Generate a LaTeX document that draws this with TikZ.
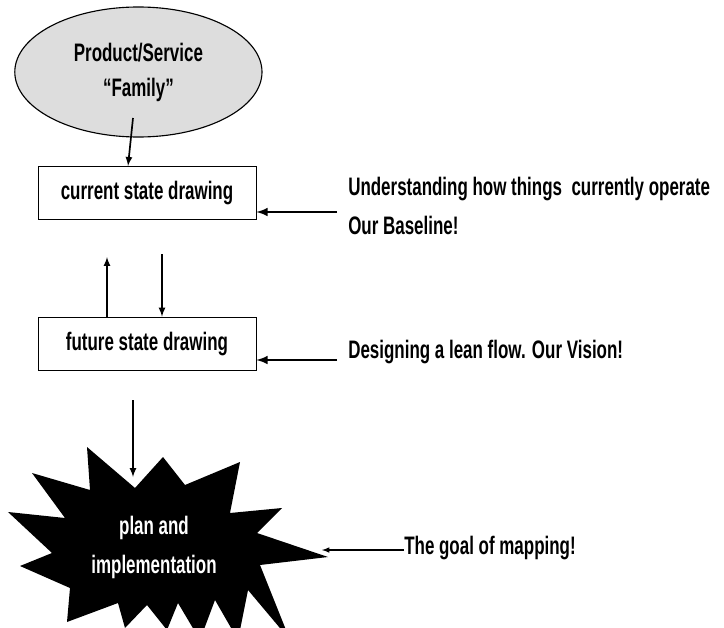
\documentclass[tikz,border=0pt]{standalone}
\usepackage{fontspec}
\setmainfont{Liberation Sans}[FakeStretch=0.67]
\usepackage{tikz}
\usetikzlibrary{shapes.geometric}

\definecolor{famgray}{RGB}{221,221,221}

\begin{document}
\begin{tikzpicture}[>=latex,
  txt/.style={font=\bfseries\fontsize{18}{27.7}\selectfont},
  stagebox/.style={txt,rectangle,draw,semithick,minimum width=5.45cm,minimum height=1.33cm,inner sep=0},
  note/.style={txt,anchor=west,align=left,inner sep=0}]

\useasboundingbox (0,0) rectangle (18.1,-15.675);

% product family node
\node[txt,ellipse,draw,thick,fill=famgray,align=center,minimum width=6.18cm,minimum height=3.25cm,inner sep=0,
  font=\bfseries\fontsize{18}{24.9}\selectfont] (fam) at (3.46,-1.8) {Product/Service\\“Family”};

% current and future state nodes
\node[stagebox] (cur) at (3.675,-4.825) {current state drawing};
\node[stagebox] (fut) at (3.675,-8.59) {future state drawing};

\coordinate (famout) at (3.325,-2.95);
\draw[very thick,->] (famout) -- (3.2,0 |- cur.north);

\draw[very thick,->] (2.675,0 |- fut.north) -- (2.675,-6.425);
\draw[very thick,->] (4.05,-6.35) -- (4.05,0 |- fut.north);

% notes on the right
\node[note] (n1) at (8.7,-5.15) {Understanding how things \ currently operate\\Our Baseline!};
\node[note] (n2) at (8.7,-8.8) {Designing a lean flow. Our Vision!};
\node[note] (n3) at (10.1,-13.7) {The goal of mapping!};

\coordinate (a1) at (8.425,-5.3);
\coordinate (a2) at (8.425,-9.0);
\draw[line width=1.7pt,->] (a1) -- (a1 -| cur.east);
\draw[line width=1.7pt,->] (a2) -- (a2 -| fut.east);

% plan and implementation burst
\begin{scope}
\clip (0,0) rectangle (18.1,-15.675);
\fill (2.175,-11.175) -- (3.375,-12.2) -- (4.075,-11.425) -- (4.625,-12.125)
  -- (6.0,-11.55) -- (5.75,-12.825) -- (7.05,-12.7) -- (6.425,-13.325)
  -- (8.2,-13.925) -- (6.5,-14.125) -- (7.25,-16.0) -- (6.2,-14.75)
  -- (5.95,-16.0) -- (5.375,-15.0) -- (5.0,-16.0) -- (4.45,-15.075)
  -- (4.175,-15.75) -- (3.675,-15.125) -- (3.125,-15.7) -- (2.95,-15.075)
  -- (1.675,-15.55) -- (1.75,-14.7) -- (0.5,-14.15) -- (1.3,-13.825)
  -- (0.2,-12.8) -- (1.625,-12.95) -- (0.8,-11.825) -- (2.25,-12.25) -- cycle;
\end{scope}
\node[txt,white,align=center,inner sep=0] (plan) at (3.85,-13.675) {plan and\\implementation};

\coordinate (burst) at (3.325,-11.925);
\coordinate (tip) at (8.05,-13.75);
\draw[very thick,->] (3.325,-10.0) -- (burst);
\draw[thick,->] (n3.west |- tip) -- (tip);

\end{tikzpicture}
\end{document}
